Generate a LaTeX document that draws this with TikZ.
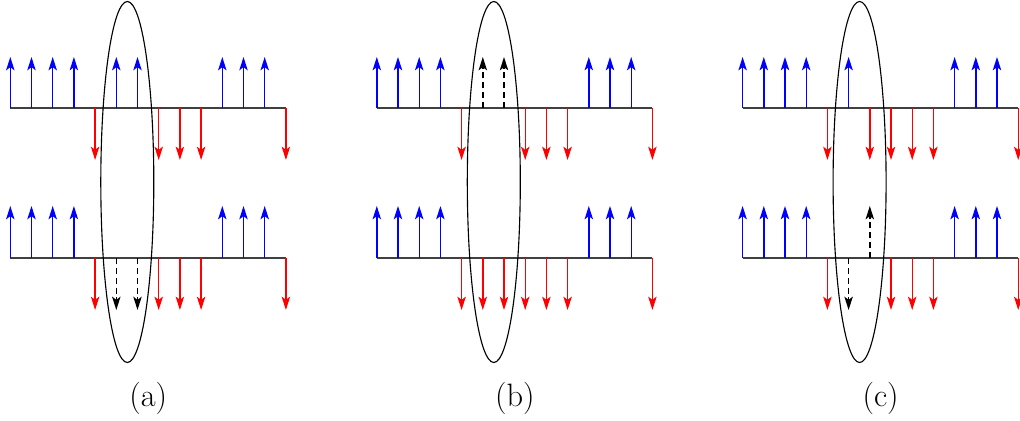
\documentclass[tikz,border=0pt]{standalone}
\usetikzlibrary{arrows.meta}
\tikzset{
  tip/.style={-{Stealth[length=9.5pt,width=6pt,inset=2.3pt]}},
  bluearrow/.style={tip, blue, line width=1pt},
  redarrow/.style={tip, red, line width=1pt},
  blkarrow/.style={tip, black, line width=1pt, dash pattern=on 4.5pt off 2.5pt},
  axisline/.style={black!75, line width=0.9pt},
  loop/.style={draw, black, line width=0.8pt},
  lab/.style={font=\fontsize{23}{27}\selectfont}
}
% #1 shift, #2 top blue up, #3 top red down, #4 top dashed up, #5 bottom red down, #6 bottom dashed up, #7 bottom dashed down, #8 label, #9 name
\newcommand\mypanel[9]{%
  \begin{scope}[shift={(#1,0)}]
    \draw[axisline] (0,108) coordinate (#9t0) -- (275.6,108) coordinate (#9t1);
    \draw[axisline] (0,258) coordinate (#9b0) -- (275.6,258) coordinate (#9b1);
    \foreach \i in {#2} \draw[bluearrow] (\i*21.2,108) -- ++(0,-51);
    \foreach \i in {#3} \draw[redarrow] (\i*21.2,108) -- ++(0,52);
    \foreach \i in {#4} \draw[blkarrow] (\i*21.2,108) -- ++(0,-51);
    \foreach \i in {0,1,2,3,10,11,12} \draw[bluearrow] (\i*21.2,258) -- ++(0,-52);
    \foreach \i in {#5} \draw[redarrow] (\i*21.2,258) -- ++(0,52);
    \foreach \i in {#6} \draw[blkarrow] (\i*21.2,258) -- ++(0,-52);
    \foreach \i in {#7} \draw[blkarrow] (\i*21.2,258) -- ++(0,52);
    \draw[loop] (117,182) ellipse [x radius=26.5, y radius=180.5];
    \node[lab] (#9lab) at (138,398) {#8};
  \end{scope}}
\begin{document}
\begin{tikzpicture}[x=0.025cm, y=-0.025cm]
  \useasboundingbox (0,0) rectangle (1020,421);
  \mypanel{10.3}{0,1,2,3,5,6,10,11,12}{4,7,8,9,13}{}{4,7,8,9,13}{}{5,6}{(a)}{pa}
  \mypanel{376.8}{0,1,2,3,10,11,12}{4,7,8,9,13}{5,6}{4,5,6,7,8,9,13}{}{}{(b)}{pb}
  \mypanel{742.6}{0,1,2,3,5,10,11,12}{4,6,7,8,9,13}{}{4,7,8,9,13}{6}{5}{(c)}{pc}
\end{tikzpicture}
\end{document}
